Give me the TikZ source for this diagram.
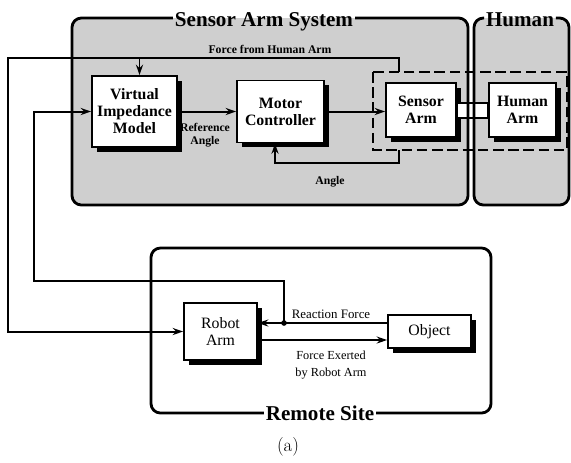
\documentclass[tikz,border=0pt]{standalone}
\usepackage{fontspec}
\setmainfont{Liberation Serif}
\newfontfamily\capfont{Latin Modern Roman}
\usepackage{tikz}
\usetikzlibrary{arrows.meta,shadows,calc}

\tikzset{
	blk/.style={draw, line width=1.4pt, fill=white, align=center, inner sep=1pt,
		drop shadow={shadow xshift=1.4mm, shadow yshift=-1.4mm, fill=black, opacity=1}},
	toptxt/.style={font=\fontsize{13.5}{14.5}\selectfont\bfseries},
	bottxt/.style={font=\fontsize{13.5}{14.5}\selectfont},
	lbl/.style={font=\fontsize{10}{11}\selectfont\bfseries, align=center, inner sep=1pt},
	botlbl/.style={font=\fontsize{11}{13}\selectfont, align=center, inner sep=1pt},
	ttl/.style={font=\fontsize{18}{20}\selectfont\bfseries, inner sep=1.5pt},
	wire/.style={line width=1.7pt},
	frame/.style={line width=2.4pt, rounded corners=8pt},
}

\begin{document}
\begin{tikzpicture}[x=0.03cm, y=-0.03cm, >={Stealth[length=9pt,width=6pt]}]

	\useasboundingbox (0,0) rectangle (571,462);

	% shaded areas
	\fill[gray!38, rounded corners=8pt] (72,18) rectangle (468,205); %sensor arm system
	\fill[gray!38, rounded corners=8pt] (474,18) rectangle (569,205); %human

	\draw[line width=1.8pt, dash pattern=on 9pt off 4pt] (373,72) rectangle (567,150); %grip

	% blocks
	\node[blk, toptxt, minimum width=2.55cm, minimum height=2.13cm] (vim) at (134.5,111.5) {Virtual\\Impedance\\Model};
	\node[blk, toptxt, minimum width=2.61cm, minimum height=1.86cm] (mc) at (280.5,111.5) {Motor\\Controller};
	\node[blk, toptxt, minimum width=2.1cm, minimum height=1.62cm] (sa) at (421,110) {Sensor\\Arm};
	\node[blk, toptxt, minimum width=2.01cm, minimum height=1.62cm] (ha) at (522.5,110) {Human\\Arm};
	\node[blk, bottxt, minimum width=2.19cm, minimum height=1.71cm] (ra) at (220.5,331.5) {Robot\\Arm};
	\node[blk, bottxt, minimum width=2.49cm, minimum height=0.99cm] (obj) at (429.5,331.5) {Object};

	\draw[line width=1.2pt, fill=white] (sa.east |- 0,103) rectangle (ha.west |- 0,118); %coupling

	% connectors
	\coordinate (fhs) at (399,72);
	\coordinate (fhl) at (8,58);
	\coordinate (ans) at (399,150);
	\coordinate (anl) at (275,163);
	\coordinate (rf) at (284,323);
	\coordinate (fbl) at (34,281);

	\draw[wire,->] (fhs) |- (fhl) |- (ra.west); %force from human arm
	\draw[wire,->] ($(vim.north |- fhl)+(5,0)$) -- ($(vim.north)+(5,0)$);
	\draw[wire,->] (vim.east) -- (vim.east -| mc.west); %reference angle
	\draw[wire,->] (mc.east) -- (mc.east -| sa.west);
	\draw[wire,->] (ans) |- (anl) -- (anl |- mc.south); %angle
	\draw[wire,->] ($(obj.west)+(0,-8.5)$) -- ($(ra.east)+(0,-8.5)$); %reaction force
	\draw[wire,->] (rf) |- (fbl) |- (vim.west);
	\fill (rf) circle[radius=2.4pt];
	\draw[wire,->] ($(ra.east)+(0,8.5)$) -- ($(obj.west)+(0,8.5)$); %force exerted

	% labels
	\node[lbl] (lfh) at (270,49) {Force from Human Arm};
	\node[lbl] (lref) at (205,135) {Reference\\Angle};
	\node[lbl] (lang) at (330,182) {Angle};
	\node[botlbl] (lrf) at (331,314) {Reaction Force};
	\node[botlbl, font=\fontsize{10.5}{15}\selectfont] (lfe) at (331,365) {Force Exerted\\by Robot Arm};

	% frames with titles
	\node[ttl, anchor=base] (systtl) at (264,26) {Sensor Arm System};
	\draw[frame] (systtl.east |- 0,18) -- (468,18) -- (468,205) -- (72,205) -- (72,18) -- (systtl.west |- 0,18);
	\node[ttl, anchor=base] (hmttl) at (520,26) {Human};
	\draw[frame] (hmttl.east |- 0,18) -- (569,18) -- (569,205) -- (474,205) -- (474,18) -- (hmttl.west |- 0,18);
	\node[ttl, anchor=base] (rsttl) at (320,420) {Remote Site};
	\draw[frame] (rsttl.west |- 0,413) -- (151,413) -- (151,248) -- (491,248) -- (491,413) -- (rsttl.east |- 0,413);

	\node[font=\capfont\fontsize{16}{18}\selectfont] (cap) at (288,447) {(a)};

\end{tikzpicture}
\end{document}
